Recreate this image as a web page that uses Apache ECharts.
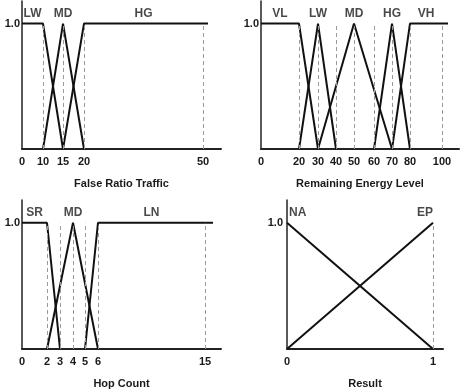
<!DOCTYPE html>
<html>
<head>
<meta charset="utf-8">
<script src="https://cdn.jsdelivr.net/npm/echarts@6/dist/echarts.min.js"></script>
<style>
html, body { margin: 0; padding: 0; background: #fff; }
#main { width: 462px; height: 390px; }
</style>
</head>
<body>
<div id="main"></div>
<script>
// False Ratio Traffic
var frtTicks = ['0', '10', '15', '20', '50'];
var frtNames = ['LW', 'MD', 'HG'];
var frtLW = [[0, 1], [10, 1], [15, 0]];
var frtMD = [[10, 0], [15, 1], [20, 0]];
var frtHG = [[15, 0], [20, 1], [50, 1]];

// Remaining Energy Level
var relTicks = ['0', '20', '30', '40', '50', '60', '70', '80', '100'];
var relNames = ['VL', 'LW', 'MD', 'HG', 'VH'];
var relVL = [[0, 1], [20, 1], [30, 0]];
var relLW = [[20, 0], [30, 1], [40, 0]];
var relMD = [[30, 0], [50, 1], [70, 0]];
var relHG = [[60, 0], [70, 1], [80, 0]];
var relVH = [[70, 0], [80, 1], [100, 1]];

// Hop Count
var hopTicks = ['0', '2', '3', '4', '5', '6', '15'];
var hopNames = ['SR', 'MD', 'LN'];
var hopSR = [[0, 1], [2, 1], [3, 0]];
var hopMD = [[2, 0], [4, 1], [6, 0]];
var hopLN = [[5, 0], [6, 1], [15, 1]];

// Result
var resTicks = ['0', '1'];
var resNames = ['NA', 'EP'];
var resNA = [[0, 1], [1, 0]];
var resEP = [[0, 0], [1, 1]];

/**
 * layout of the four panels (the x axes are drawn schematic, not to scale)
 * pos = where each tick sits along the axis, in px from the y axis
 */
var panels = [
	{ name: 'False Ratio Traffic', ticks: frtTicks, names: frtNames, sets: [frtLW, frtMD, frtHG],
	  left: 22, top: 1, width: 199, height: 148, pos: [0, 21, 41, 62, 181], lineEnd: 186 },
	{ name: 'Remaining Energy Level', ticks: relTicks, names: relNames, sets: [relVL, relLW, relMD, relHG, relVH],
	  left: 261, top: 1, width: 198, height: 148, pos: [0, 38, 57, 75, 93, 113, 131, 149, 181], lineEnd: 187 },
	{ name: 'Hop Count', ticks: hopTicks, names: hopNames, sets: [hopSR, hopMD, hopLN],
	  left: 22, top: 200, width: 199, height: 149, pos: [0, 25, 38, 51, 63, 76, 183], lineEnd: 191 },
	{ name: 'Result', ticks: resTicks, names: resNames, sets: [resNA, resEP],
	  left: 287, top: 200, width: 156, height: 149, pos: [0, 146], lineEnd: null }
];

var TEXT = '#1a1a1a';
var FONT = 'Liberation Sans, Arial, sans-serif';

// value -> position on the schematic axis
function toPos(v, vals, pos) {
	for (var i = 1; i < vals.length; i++) {
		if (v <= vals[i]) {
			var t = (v - vals[i - 1]) / (vals[i] - vals[i - 1]);
			return pos[i - 1] + t * (pos[i] - pos[i - 1]);
		}
	}
	return pos[pos.length - 1];
}

var grids = [], xAxes = [], yAxes = [], series = [];

panels.forEach(function (p, k) {
	var vals = p.ticks.map(Number);
	var last = vals[vals.length - 1];

	grids.push({ left: p.left, top: p.top, width: p.width, height: p.height });

	xAxes.push({
		gridIndex: k,
		type: 'value',
		min: 0,
		max: p.width,
		name: p.name,
		nameLocation: 'middle',
		nameGap: 29,
		nameTextStyle: { color: TEXT, fontSize: 11, fontWeight: 'bold', fontFamily: FONT },
		axisLine: { show: true, onZero: false, lineStyle: { color: '#222', width: 2 } },
		axisTick: { show: false },
		splitLine: { show: false },
		axisLabel: {
			customValues: p.pos,
			formatter: function (v) {
				var i = p.pos.indexOf(v);
				return i >= 0 ? p.ticks[i] : '';
			},
			color: TEXT, fontSize: 11, fontWeight: 'bold', fontFamily: FONT, margin: 7
		}
	});

	yAxes.push({
		gridIndex: k,
		type: 'value',
		min: 0,
		max: 1.18,
		axisLine: { show: true, onZero: false, lineStyle: { color: '#222', width: 1.5 } },
		axisTick: { show: false },
		splitLine: { show: false },
		axisLabel: {
			customValues: [1],
			formatter: function () { return '1.0'; },
			color: TEXT, fontSize: 11, fontWeight: 'bold', fontFamily: FONT, margin: k == 3 ? 4 : 2
		}
	});

	// dashed guides at every tick except 0
	var guides = [];
	for (var i = 1; i < vals.length; i++) {
		guides.push([{ coord: [p.pos[i], 0] }, { coord: [p.pos[i], 1] }]);
	}
	series.push({
		type: 'line',
		xAxisIndex: k,
		yAxisIndex: k,
		data: [],
		z: 1,
		markLine: {
			silent: true,
			symbol: ['none', 'none'],
			label: { show: false },
			lineStyle: { color: '#9a9a9a', width: 1, type: [4, 3] },
			data: guides
		}
	});

	// membership functions
	var labels = [];
	p.sets.forEach(function (set, j) {
		var data = set.map(function (d) { return [toPos(d[0], vals, p.pos), d[1]]; });
		var end = set[set.length - 1];
		if (p.lineEnd != null && end[0] == last && end[1] == 1) {
			data.push([p.lineEnd, 1]);
		}
		series.push({
			type: 'line',
			name: p.names[j],
			xAxisIndex: k,
			yAxisIndex: k,
			data: data,
			symbol: 'none',
			z: 3,
			lineStyle: { color: '#111', width: 2 }
		});
		// the set's name sits over the middle of its top
		var tops = set.filter(function (d) { return d[1] == 1; }).map(function (d) { return d[0]; });
		var mid = (Math.min.apply(null, tops) + Math.max.apply(null, tops)) / 2;
		var align = 'center';
		if (p.lineEnd == null && mid == vals[0]) align = 'left';
		if (p.lineEnd == null && mid == last) align = 'right';
		labels.push({ value: [toPos(mid, vals, p.pos) + (align == 'left' ? 2 : 0), 1.08], name: p.names[j], align: align });
	});
	series.push({
		type: 'scatter',
		xAxisIndex: k,
		yAxisIndex: k,
		symbolSize: 0,
		z: 4,
		data: labels.map(function (l) {
			return {
				value: l.value,
				name: l.name,
				label: { align: l.align }
			};
		}),
		label: {
			show: true,
			position: 'inside',
			formatter: '{b}',
			color: TEXT, fontSize: 12, fontWeight: 'bold', fontFamily: FONT
		}
	});
});

var myChart = echarts.init(document.getElementById('main'));
myChart.setOption({
	animation: false,
	backgroundColor: '#fff',
	grid: grids,
	xAxis: xAxes,
	yAxis: yAxes,
	series: series
});
</script>
</body>
</html>
